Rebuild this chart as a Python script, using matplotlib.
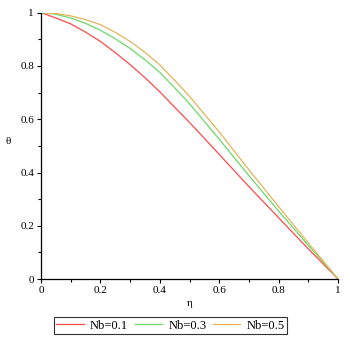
import matplotlib
matplotlib.use('Agg')
import matplotlib.pyplot as plt
from matplotlib.ticker import MultipleLocator

# eta grid and theta profiles
eta = [0.0, 0.05, 0.1, 0.15, 0.2, 0.25, 0.3, 0.35, 0.4, 0.45, 0.5, 0.6, 0.7, 0.8, 0.9, 1.0]
theta_nb01 = [1.0, 0.980, 0.958, 0.927, 0.892, 0.850, 0.805, 0.756, 0.703, 0.645, 0.588,
              0.468, 0.347, 0.230, 0.113, 0.0]
theta_nb03 = [1.0, 0.994, 0.980, 0.960, 0.934, 0.902, 0.866, 0.823, 0.776, 0.718, 0.658,
              0.525, 0.388, 0.255, 0.126, 0.0]
theta_nb05 = [1.0, 0.997, 0.988, 0.974, 0.955, 0.926, 0.892, 0.851, 0.804, 0.746, 0.686,
              0.552, 0.410, 0.272, 0.135, 0.0]
labels = ['Nb=0.1', 'Nb=0.3', 'Nb=0.5']
colors = ['#ff4a4a', '#6ad86a', '#e2b45a']

plt.rcParams['font.family'] = ['Liberation Serif', 'DejaVu Serif']
plt.rcParams['font.size'] = 8

fig = plt.figure(figsize=(3.5, 3.42), dpi=100)
ax = fig.add_axes([0.117, 0.184, 0.849, 0.779])

for ys, lab, c in zip([theta_nb01, theta_nb03, theta_nb05], labels, colors):
    ax.plot(eta, ys, color=c, lw=0.9, label=lab)

ax.set_xlim(0, 1)
ax.set_ylim(0, 1)
ax.xaxis.set_major_locator(MultipleLocator(0.2))
ax.xaxis.set_minor_locator(MultipleLocator(0.1))
ax.yaxis.set_major_locator(MultipleLocator(0.2))
ax.yaxis.set_minor_locator(MultipleLocator(0.1))
ax.xaxis.set_major_formatter(plt.FuncFormatter(lambda v, p: '%g' % round(v, 1)))
ax.yaxis.set_major_formatter(plt.FuncFormatter(lambda v, p: '%g' % round(v, 1)))
ax.tick_params(which='both', direction='out', length=3, width=0.8, pad=2)
ax.tick_params(which='minor', length=2.5)
for s in ['top', 'right']:
    ax.spines[s].set_visible(False)
for s in ['left', 'bottom']:
    ax.spines[s].set_linewidth(0.9)

ax.set_xlabel('η')
ax.xaxis.set_label_coords(0.5, -0.075)
ax.set_ylabel('θ', rotation=0)
ax.yaxis.set_label_coords(-0.11, 0.5)

leg = fig.legend(loc='center', bbox_to_anchor=(0.487, 0.048), ncol=3, frameon=True,
                 fancybox=False, edgecolor='black', handlelength=2.2, handletextpad=0.5,
                 columnspacing=0.5, borderpad=0.2, fontsize=9)
leg.get_frame().set_linewidth(0.8)

fig.savefig('out.png', dpi=100)
